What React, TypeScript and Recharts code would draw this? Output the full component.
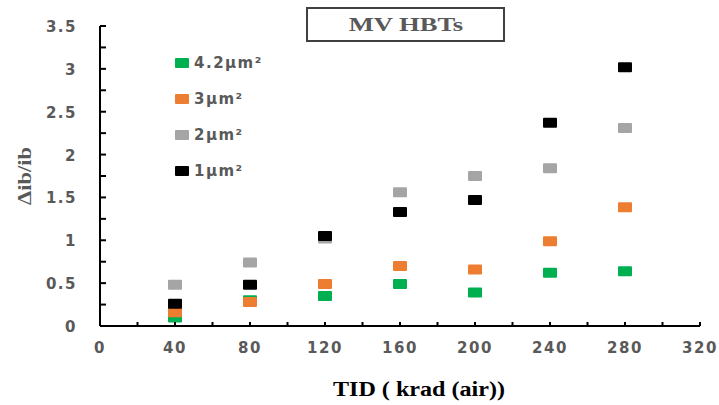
import { ScatterChart, Scatter, XAxis, YAxis } from 'recharts'

const tid = [40, 80, 120, 160, 200, 240, 280]
const a42 = [0.1, 0.3, 0.35, 0.49, 0.39, 0.62, 0.64]
const a3 = [0.16, 0.28, 0.49, 0.7, 0.66, 0.99, 1.385]
const a2 = [0.48, 0.74, 1.02, 1.56, 1.75, 1.84, 2.31]
const a1 = [0.26, 0.48, 1.05, 1.33, 1.47, 2.37, 3.02]

const xTicks = [0, 20, 40, 60, 80, 100, 120, 140, 160, 180, 200, 220, 240, 260, 280, 300, 320]
const yTicks = [0, 0.25, 0.5, 0.75, 1, 1.25, 1.5, 1.75, 2, 2.25, 2.5, 2.75, 3, 3.25, 3.5]

const series = [
  { name: '4.2µm²', values: a42, color: '#00B050' },
  { name: '3µm²', values: a3, color: '#ED7D31' },
  { name: '2µm²', values: a2, color: '#A5A5A5' },
  { name: '1µm²', values: a1, color: '#000000' },
]

const tickFont = '"DejaVu Sans", Verdana, sans-serif'
const serif = '"Liberation Serif", "Times New Roman", serif'
const grey = '#595959'

const Box = (props: any) => (
  <rect x={props.cx - 7} y={props.cy - 5} width={14} height={10} rx={1} fill={props.fill} />
)

const XTick = (props: any) => {
  const { x, y, payload } = props
  const v = payload.value
  return (
    <g>
      <line x1={x} x2={x} y1={y} y2={y - 4} stroke="#000" strokeWidth={2} />
      {v % 40 === 0 && (
        <text x={x} y={y + 27} textAnchor="middle" fill={grey} fontSize={15} fontWeight="bold" fontFamily={tickFont} letterSpacing={1.5}>
          {v}
        </text>
      )}
    </g>
  )
}

const YTick = (props: any) => {
  const { x, y, payload } = props
  const v = payload.value
  return (
    <g>
      <line x1={x} x2={x + 6} y1={y} y2={y} stroke="#000" strokeWidth={2} />
      {Math.abs(v * 2 - Math.round(v * 2)) < 1e-9 && (
        <text x={x - 23} y={y + 6} textAnchor="end" fill={grey} fontSize={15} fontWeight="bold" fontFamily={tickFont} letterSpacing={1.5}>
          {v}
        </text>
      )}
    </g>
  )
}

export default function App() {
  return (
    <div style={{ position: 'absolute', left: 0, top: 0, width: 719, height: 405, background: '#fff' }}>
      <ScatterChart width={719} height={405} margin={{ top: 26, right: 19, bottom: 49, left: 40 }}>
        <XAxis
          type="number"
          dataKey="x"
          domain={[0, 320]}
          ticks={xTicks}
          interval={0}
          tickSize={0}
          tickMargin={0}
          height={30}
          axisLine={{ stroke: '#000', strokeWidth: 2 }}
          tick={<XTick />}
          label={{
            content: () => (
              <text x={333} y={396} textLength={172} lengthAdjust="spacingAndGlyphs" fill="#000" fontSize={20} fontWeight="bold" fontFamily={serif}>
                TID ( krad (air))
              </text>
            ),
          }}
        />
        <YAxis
          type="number"
          dataKey="y"
          domain={[0, 3.5]}
          ticks={yTicks}
          interval={0}
          tickSize={0}
          tickMargin={0}
          width={60}
          axisLine={{ stroke: '#000', strokeWidth: 2 }}
          tick={<YTick />}
          label={{
            content: () => (
              <text x={31} y={205} transform="rotate(-90 31 205)" textLength={58} lengthAdjust="spacingAndGlyphs" fill={grey} fontSize={19} fontWeight="bold" fontFamily={serif}>
                Δib/ib
              </text>
            ),
          }}
        />
        {series.map((s) => (
          <Scatter
            key={s.name}
            name={s.name}
            data={tid.map((t, i) => ({ x: t, y: s.values[i] }))}
            fill={s.color}
            shape={<Box />}
            isAnimationActive={false}
          />
        ))}
      </ScatterChart>
      <div style={{ position: 'absolute', left: 175, top: 45 }}>
        {series.map((s) => (
          <div key={s.name} style={{ display: 'flex', alignItems: 'center', height: 36 }}>
            <span style={{ width: 14, height: 10, background: s.color, borderRadius: 1, marginRight: 5 }} />
            <span style={{ color: grey, fontFamily: tickFont, fontWeight: 'bold', fontSize: 15, letterSpacing: 1.5 }}>{s.name}</span>
          </div>
        ))}
      </div>
      <div
        style={{
          position: 'absolute',
          left: 306,
          top: 7,
          width: 195,
          height: 31,
          border: '2px solid #404040',
          display: 'flex',
          alignItems: 'center',
          justifyContent: 'center',
          color: grey,
          fontFamily: serif,
          fontWeight: 'bold',
          fontSize: 19,
        }}
      >
        <span style={{ display: 'inline-block', transform: 'scaleX(1.4)' }}>MV HBTs</span>
      </div>
    </div>
  )
}
